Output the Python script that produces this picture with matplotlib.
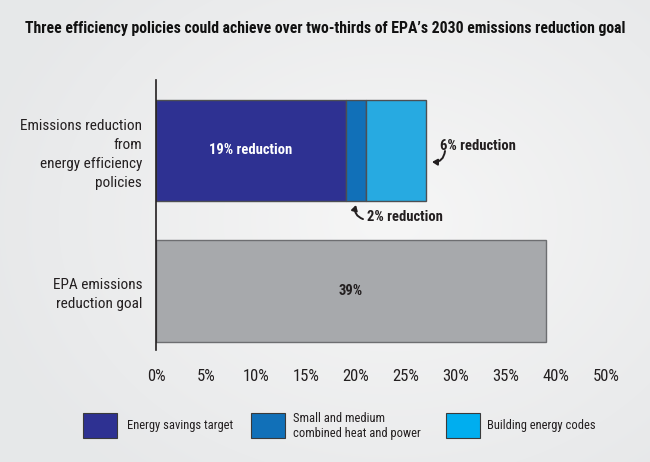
import numpy as np
import matplotlib
matplotlib.use("Agg")
import matplotlib.pyplot as plt
from matplotlib import font_manager
from matplotlib.patches import Rectangle

# ---- data ----
categories = ["EPA emissions\nreduction goal",
              "Emissions reduction\nfrom\nenergy efficiency\npolicies"]
series_names = ["Energy savings target",
                "Small and medium\ncombined heat and power",
                "Building energy codes"]
policy_values = [19, 2, 6]
goal_value = 39
tick_positions = [0, 5, 10, 15, 20, 25, 30, 35, 40, 45]
tick_labels = ["0%", "5%", "10%", "15%", "20%", "25%", "30%", "35%", "40%", "50%"]
title = "Three efficiency policies could achieve over two-thirds of EPA\u2019s 2030 emissions reduction goal"

colors = ["#2e3192", "#1170b8", "#27aae1"]
legend_colors = ["#2e3192", "#1170b8", "#00aeef"]
goal_color = "#a7a9ac"
edge = "#4d4f53"

# ---- font ----
available = {f.name for f in font_manager.fontManager.ttflist}
stretch = "normal"
fam = "DejaVu Sans"
for cand in ["Liberation Sans Narrow", "Roboto Condensed", "Open Sans Condensed"]:
    if cand in available:
        fam = cand
        break
else:
    cond = [f for f in font_manager.fontManager.ttflist
            if f.name == "DejaVu Sans" and "ondensed" in f.fname]
    if cond:
        stretch = "condensed"
plt.rcParams["font.family"] = [fam, "DejaVu Sans"]
plt.rcParams["font.stretch"] = stretch

W, H = 650, 462
fig = plt.figure(figsize=(W / 100, H / 100), dpi=100)

# background gradient
bg = fig.add_axes([0, 0, 1, 1], zorder=-10)
yy, xx = np.mgrid[0:H, 0:W]
d = np.sqrt(((xx - 390) / 420.0) ** 2 + ((yy - 220) / 330.0) ** 2)
d = np.clip(d, 0, 1)
light = np.array([0.965, 0.965, 0.965])
dark = np.array([0.905, 0.910, 0.915])
img = light[None, None, :] * (1 - d[..., None]) + dark[None, None, :] * d[..., None]
bg.imshow(img, aspect="auto", extent=[0, 1, 0, 1])
bg.axis("off")

ax = fig.add_axes([156 / W, 1 - 350 / H, 450 / W, 270 / H])
ax.patch.set_alpha(0)

bar_h = 0.72
left = 0
for v, c in zip(policy_values, colors):
    ax.barh(1, v, left=left, height=bar_h, color=c, edgecolor=edge, linewidth=1.0)
    left += v
ax.barh(0, goal_value, height=bar_h, color=goal_color, edgecolor="#6d6e71", linewidth=1.0)

ax.set_xlim(0, 45)
ax.set_ylim(-0.42, 1.50)
for s in ["top", "right", "bottom"]:
    ax.spines[s].set_visible(False)
ax.spines["left"].set_color("#231f20")
ax.spines["left"].set_linewidth(1.2)
ax.set_xticks(tick_positions)
ax.set_xticklabels(tick_labels, fontsize=12, color="#231f20")
ax.tick_params(axis="x", length=0, pad=14)
ax.set_yticks([0, 1])
ax.set_yticklabels(categories, fontsize=11, color="#231f20", linespacing=1.45)
ax.tick_params(axis="y", length=0, pad=10)

# labels inside bars
ax.text(policy_values[0] / 2, 1, f"{policy_values[0]}% reduction", ha="center", va="center",
        color="white", fontsize=10.5, fontweight="bold")
ax.text(goal_value / 2, 0, f"{goal_value}%", ha="center", va="center",
        color="#231f20", fontsize=10.5, fontweight="bold")

# annotations
x_end1 = policy_values[0] + policy_values[1]
x_end2 = x_end1 + policy_values[2]
arrow_kw = dict(arrowstyle="-|>,head_length=0.3,head_width=0.18", color="#231f20",
                lw=1.4, connectionstyle="arc3,rad=-0.45", shrinkA=0, shrinkB=0,
                mutation_scale=10)
ax.text(x_end2 + 1.4, 1.03, f"{policy_values[2]}% reduction", fontsize=10.5,
        fontweight="bold", color="#231f20", ha="left", va="center")
ax.annotate("", xy=(x_end2 + 0.6, 0.917), xytext=(x_end2 + 1.9, 0.995),
            arrowprops=arrow_kw)
ax.text(x_end1 + 0.1, 0.526, f"{policy_values[1]}% reduction", fontsize=10.5,
        fontweight="bold", color="#231f20", ha="left", va="center")
ax.annotate("", xy=(x_end1 - 1.0, 0.611), xytext=(x_end1 - 0.3, 0.511),
            arrowprops=arrow_kw)

fig.text(0.5, 1 - 29 / H, title, ha="center", va="center", fontsize=11.3,
         fontweight="bold", color="#111111")

# legend
lx = [83, 251, 446]
tx = [127, 293, 487]
for x0, t0, name, c in zip(lx, tx, series_names, legend_colors):
    fig.patches.append(Rectangle((x0 / W, 1 - 438 / H), 34 / W, 25 / H,
                                 transform=fig.transFigure, facecolor=c,
                                 edgecolor="#3a3a3a", linewidth=0.8))
    fig.text(t0 / W, 1 - 426 / H, name, ha="left", va="center",
             fontsize=9, color="#231f20", linespacing=1.3)

fig.savefig("out.png", dpi=100)
